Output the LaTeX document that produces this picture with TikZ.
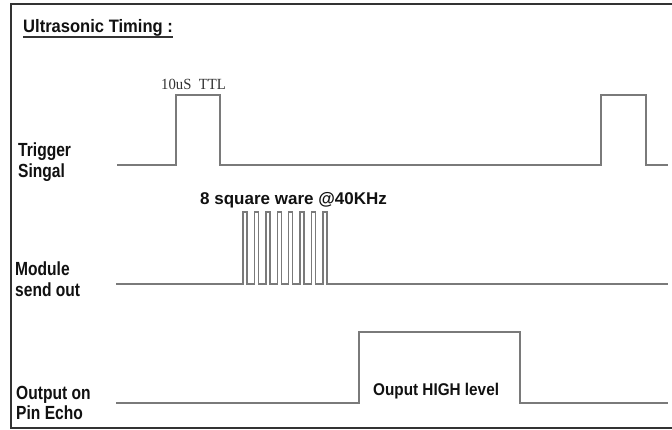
\documentclass[tikz,border=0pt]{standalone}
\usepackage{fontspec}
\setmainfont{Liberation Sans}
\newfontfamily\serifttl{Liberation Serif}
\definecolor{wavegray}{HTML}{7A7A7A}
\definecolor{framegray}{HTML}{333333}
\definecolor{txt}{HTML}{111111}
\begin{document}
\begin{tikzpicture}[x=1pt,y=-1pt,
  wave/.style={draw=wavegray,line width=1.6pt,line join=miter},
  frame/.style={draw=framegray,line width=1.4pt},
  lbl/.style={anchor=base west,inner sep=0pt,text=txt,font=\fontsize{19}{21}\selectfont\bfseries},
  wlbl/.style={anchor=base west,inner sep=0pt,text=txt,font=\fontsize{17}{19}\selectfont\bfseries},
  ttl/.style={anchor=base west,inner sep=0pt,text=framegray,font=\fontsize{15.5}{17}\selectfont\serifttl}]
\useasboundingbox (0,0) rectangle (672,430);
\fill[white] (0,0) rectangle (672,430);
% frame
\coordinate (ftr) at (672,4);
\coordinate (ftl) at (11,4);
\coordinate (fbl) at (11,428);
\coordinate (fbr) at (672,428);
\draw[frame] (ftr) -- (ftl) -- (fbl) -- (fbr);
% title
\node[lbl,font=\fontsize{18}{20}\selectfont\bfseries] (title) at (23,33) {\scalebox{0.92}[1]{Ultrasonic Timing :}};
\draw[draw=framegray,line width=1.2pt] ([yshift=-4pt]title.base west) -- ([yshift=-4pt]title.base east);
% left labels
\node[lbl] (trig1) at (18,157) {\scalebox{0.82}[1]{Trigger}};
\node[lbl] (trig2) at (18,178) {\scalebox{0.82}[1]{Singal}};
\node[lbl] (mod1) at (15,276) {\scalebox{0.82}[1]{Module}};
\node[lbl] (mod2) at (15,297) {\scalebox{0.82}[1]{send out}};
\node[lbl] (out1) at (16,399) {\scalebox{0.82}[1]{Output on}};
\node[lbl] (out2) at (16,419) {\scalebox{0.82}[1]{Pin Echo}};
% trigger wave
\draw[wave] (117,165) -- (176,165) -- (176,95) -- (220,95) -- (220,165)
  -- (601,165) -- (601,95) -- (646,95) -- (646,165) -- (668,165);
\node[ttl] (ttl) at (161,90) {\scalebox{0.95}[1]{10uS\ \ TTL}};
% module wave
\draw[wave,line width=1.4pt] (116,284) -- (243,284)
  \foreach \i in {0,...,7} {
    -- ({243+\i*11.43},284) -- ({243+\i*11.43},212) -- ({247+\i*11.43},212) -- ({247+\i*11.43},284)
  } -- (668,284);
\node[wlbl] (sq) at (200,205) {8 square ware @40KHz};
% echo wave
\draw[wave] (116,403) -- (359,403) -- (359,332) -- (520,332) -- (520,403) -- (668,403);
\node[wlbl] (high) at (373,395) {\scalebox{0.9}[1]{Ouput HIGH level}};
\end{tikzpicture}
\end{document}
